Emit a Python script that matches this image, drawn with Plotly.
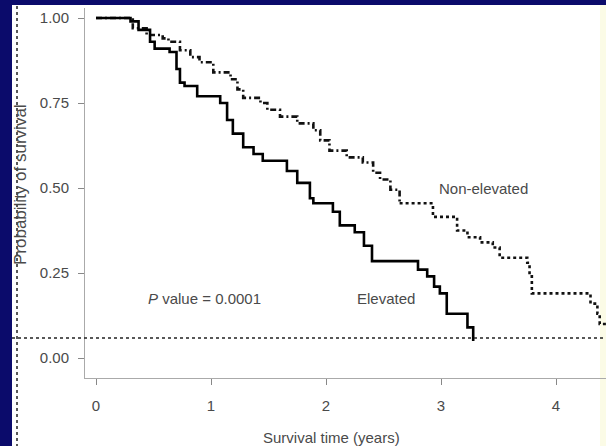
import plotly.graph_objects as go

# Kaplan-Meier curves (time in years, survival probability)
elev_t = [0.00, 0.30, 0.37, 0.47, 0.51, 0.64, 0.70, 0.73, 0.77, 0.88, 1.08, 1.14, 1.19,
          1.28, 1.37, 1.45, 1.66, 1.75, 1.86, 1.89, 2.06, 2.12, 2.25, 2.33, 2.40,
          2.80, 2.88, 2.94, 2.99, 3.05, 3.23, 3.28]
elev_s = [1.00, 0.99, 0.965, 0.93, 0.91, 0.90, 0.85, 0.81, 0.80, 0.77, 0.75, 0.70, 0.66,
          0.62, 0.60, 0.58, 0.55, 0.515, 0.47, 0.455, 0.43, 0.39, 0.37, 0.33, 0.285,
          0.26, 0.24, 0.21, 0.19, 0.13, 0.09, 0.05]

non_t = [0.00, 0.32, 0.44, 0.58, 0.63, 0.73, 0.82, 0.90, 1.02, 1.17, 1.23, 1.28, 1.43,
         1.49, 1.60, 1.75, 1.89, 1.95, 2.03, 2.18, 2.32, 2.41, 2.47, 2.56, 2.64,
         2.93, 3.14, 3.23, 3.34, 3.45, 3.51, 3.75, 3.77, 3.79, 4.30, 4.36, 4.38, 4.44]
non_s = [1.00, 0.97, 0.95, 0.94, 0.93, 0.905, 0.885, 0.87, 0.84, 0.82, 0.79, 0.765, 0.75,
         0.73, 0.71, 0.69, 0.67, 0.64, 0.61, 0.59, 0.575, 0.545, 0.525, 0.495, 0.455,
         0.415, 0.375, 0.355, 0.34, 0.325, 0.295, 0.28, 0.24, 0.19, 0.16, 0.13, 0.10, 0.10]
split = 24  # dash-dot early part, dotted tail

x_ticks = [0, 1, 2, 3, 4]
y_ticks = [0, 0.25, 0.5, 0.75, 1.0]
y_labels = ["0.00", "0.25", "0.50", "0.75", "1.00"]

W, H = 606, 446
ML, MR, MT, MB = 85, 0, 8, 68
PW, PH = W - ML - MR, H - MT - MB
def px(x): return (x - ML) / PW
def py(y): return (H - MB - y) / PH

navy = "#0b0b6b"
txt = "#4a4a4a"
font = "Liberation Sans, Arial, sans-serif"

fig = go.Figure()
fig.add_trace(go.Scatter(x=non_t[:split + 1], y=non_s[:split + 1], mode="lines", line_shape="hv",
                         line=dict(color="#111111", width=2.6, dash="6px,3px,2px,3px"),
                         showlegend=False))
fig.add_trace(go.Scatter(x=non_t[split:], y=non_s[split:], mode="lines", line_shape="hv",
                         line=dict(color="#111111", width=2.6, dash="3px,3px"),
                         showlegend=False))
fig.add_trace(go.Scatter(x=elev_t, y=elev_s, mode="lines", line_shape="hv",
                         line=dict(color="#000000", width=2.6), showlegend=False))

fig.update_xaxes(range=[(85 - 96) / 115, (606 - 96) / 115], tickvals=x_ticks,
                 ticks="outside", ticklen=6, tickcolor="#888888", showline=True,
                 linecolor="#aaaaaa", linewidth=1, showgrid=False, zeroline=False,
                 ticklabelstandoff=8,
                 tickfont=dict(size=15, color=txt, family=font))
fig.update_yaxes(range=[(358 - 378) / 340, (358 - 8) / 340], tickvals=y_ticks,
                 ticktext=y_labels, ticks="outside", ticklen=6, tickcolor="#888888",
                 showline=True, linecolor="#aaaaaa", linewidth=1, showgrid=False,
                 zeroline=False, ticklabelstandoff=6,
                 tickfont=dict(size=15, color=txt, family=font))

shapes = [
    # navy slide frame
    dict(type="rect", xref="paper", yref="paper", x0=px(-5), x1=px(12), y0=py(H + 5), y1=py(-5),
         fillcolor=navy, line_width=0, layer="above"),
    dict(type="rect", xref="paper", yref="paper", x0=px(-5), x1=px(W + 5), y0=py(5), y1=py(-5),
         fillcolor=navy, line_width=0, layer="above"),
    dict(type="rect", xref="paper", yref="paper", x0=px(600), x1=px(W + 5), y0=py(H + 5), y1=py(5),
         fillcolor="#fbfbe6", line_width=0, layer="below"),
    # dotted guide lines
    dict(type="line", xref="paper", yref="paper", x0=px(12), x1=px(W), y0=py(338), y1=py(338),
         line=dict(color="#222222", width=1.5, dash="dot")),
    dict(type="line", xref="paper", yref="paper", x0=px(17), x1=px(17), y0=py(6), y1=py(H),
         line=dict(color="#222222", width=1.5, dash="dot")),
]

annotations = [
    dict(x=3.37, y=0.50, text="Non-elevated"),
    dict(x=2.52, y=0.176, text="Elevated"),
    dict(x=0.94, y=0.176, text="<i>P</i> value = 0.0001"),
    dict(xref="paper", yref="paper", x=px(331), y=py(437), text="Survival time (years)"),
    dict(xref="paper", yref="paper", x=px(20), y=py(185), text="Probability of survival",
         textangle=-90),
]
for a in annotations:
    a.update(showarrow=False, xanchor="center", yanchor="middle",
             font=dict(size=15, color=txt, family=font))
annotations[-1]["font"]["size"] = 17

fig.update_layout(width=W, height=H, margin=dict(l=ML, r=MR, t=MT, b=MB),
                  paper_bgcolor="white", plot_bgcolor="white",
                  shapes=shapes, annotations=annotations)

# drop the default page margin so the figure sits at the window corner
fig.write_html("out.html", config={"displayModeBar": False},
               post_script="document.body.style.margin='0';")
